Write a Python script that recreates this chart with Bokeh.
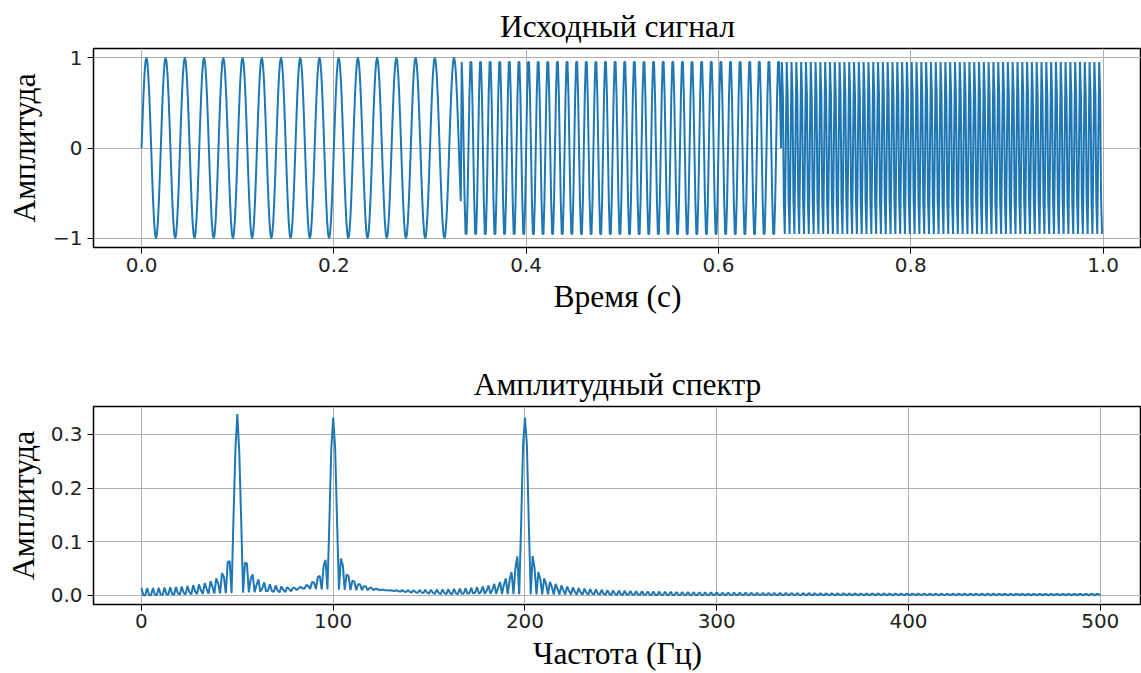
import numpy as np
from bokeh.plotting import figure
from bokeh.layouts import column
from bokeh.models import FixedTicker, Range1d
from bokeh.embed import file_html
from bokeh.resources import INLINE

# ---- data: piecewise sine signal (50 / 100 / 200 Hz), sampled at 1 kHz ----
fs = 1000
n_samples = 1000
seg_freqs = [50, 100, 200]
seg_bounds = [0, 333, 666, 1000]          # sample index where each tone starts / ends
time_ticks = [0.0, 0.2, 0.4, 0.6, 0.8, 1.0]
time_labels = ["0.0", "0.2", "0.4", "0.6", "0.8", "1.0"]
amp_ticks = [-1, 0, 1]
amp_labels = ["\u22121", "0", "1"]
freq_ticks = [0, 100, 200, 300, 400, 500]
freq_labels = ["0", "100", "200", "300", "400", "500"]
spec_ticks = [0.0, 0.1, 0.2, 0.3]
spec_labels = ["0.0", "0.1", "0.2", "0.3"]

t = np.arange(n_samples) / fs
signal = np.concatenate([
    np.sin(2 * np.pi * f * t[a:b])
    for f, a, b in zip(seg_freqs, seg_bounds[:-1], seg_bounds[1:])
])
spectrum = 2 * np.abs(np.fft.rfft(signal)) / n_samples
freqs = np.fft.rfftfreq(n_samples, 1 / fs)

BLUE = "#1f77b4"
SERIF = "Liberation Serif"
SANS = "DejaVu Sans"


def style(p, xticks, xlabels, yticks, ylabels, ylab_standoff, xlab_standoff, xtick_standoff):
    p.title.text_font = SERIF
    p.title.text_font_size = "31.5px"
    p.title.text_font_style = "normal"
    p.title.text_color = "black"
    p.title.align = "center"
    p.title.standoff = 10
    p.outline_line_color = "black"
    p.outline_line_width = 1.5
    p.background_fill_color = "white"
    p.border_fill_color = "white"
    for ax in (p.xaxis, p.yaxis):
        ax.axis_line_color = None
        ax.major_tick_line_color = "black"
        ax.major_tick_line_width = 1
        ax.major_tick_out = 6
        ax.major_tick_in = 0
        ax.minor_tick_line_color = None
        ax.major_label_text_font = SANS
        ax.major_label_text_font_size = "20px"
        ax.major_label_text_color = "#222222"
        ax.axis_label_text_font = SERIF
        ax.axis_label_text_font_size = "31.5px"
        ax.axis_label_text_font_style = "normal"
        ax.axis_label_text_color = "black"
    p.xaxis.ticker = FixedTicker(ticks=xticks)
    p.xaxis.major_label_overrides = {k: v for k, v in zip(xticks, xlabels)}
    p.yaxis.ticker = FixedTicker(ticks=yticks)
    p.yaxis.major_label_overrides = {k: v for k, v in zip(yticks, ylabels)}
    p.xaxis.major_label_standoff = xtick_standoff
    p.yaxis.major_label_standoff = 5
    p.xaxis.axis_label_standoff = xlab_standoff
    p.yaxis.axis_label_standoff = ylab_standoff
    for g in (p.xgrid, p.ygrid):
        g.grid_line_color = "#b0b0b0"
        g.grid_line_width = 1
    p.min_border_right = 0


p1 = figure(width=1141, height=333, output_backend="svg", toolbar_location=None,
            title="Исходный сигнал",
            x_range=Range1d(-0.05, 1.04), y_range=Range1d(-1.1, 1.1),
            x_axis_label="Время (с)", y_axis_label="Амплитуда",
            min_border_left=93, min_border_top=48, min_border_bottom=86)
p1.line(t, signal, line_color=BLUE, line_width=2)
style(p1, time_ticks, time_labels, amp_ticks, amp_labels, 8, 4, 4)

p2 = figure(width=1141, height=340, output_backend="svg", toolbar_location=None,
            title="Амплитудный спектр",
            x_range=Range1d(-25, 521.5), y_range=Range1d(-0.0168, 0.352),
            x_axis_label="Частота (Гц)", y_axis_label="Амплитуда",
            min_border_left=93, min_border_top=73, min_border_bottom=67)
p2.line(freqs, spectrum, line_color=BLUE, line_width=2)
style(p2, freq_ticks, freq_labels, spec_ticks, spec_labels, 7, 5, 3)

layout = column(p1, p2, spacing=0)
open("out.html", "w").write(file_html(layout, INLINE))
